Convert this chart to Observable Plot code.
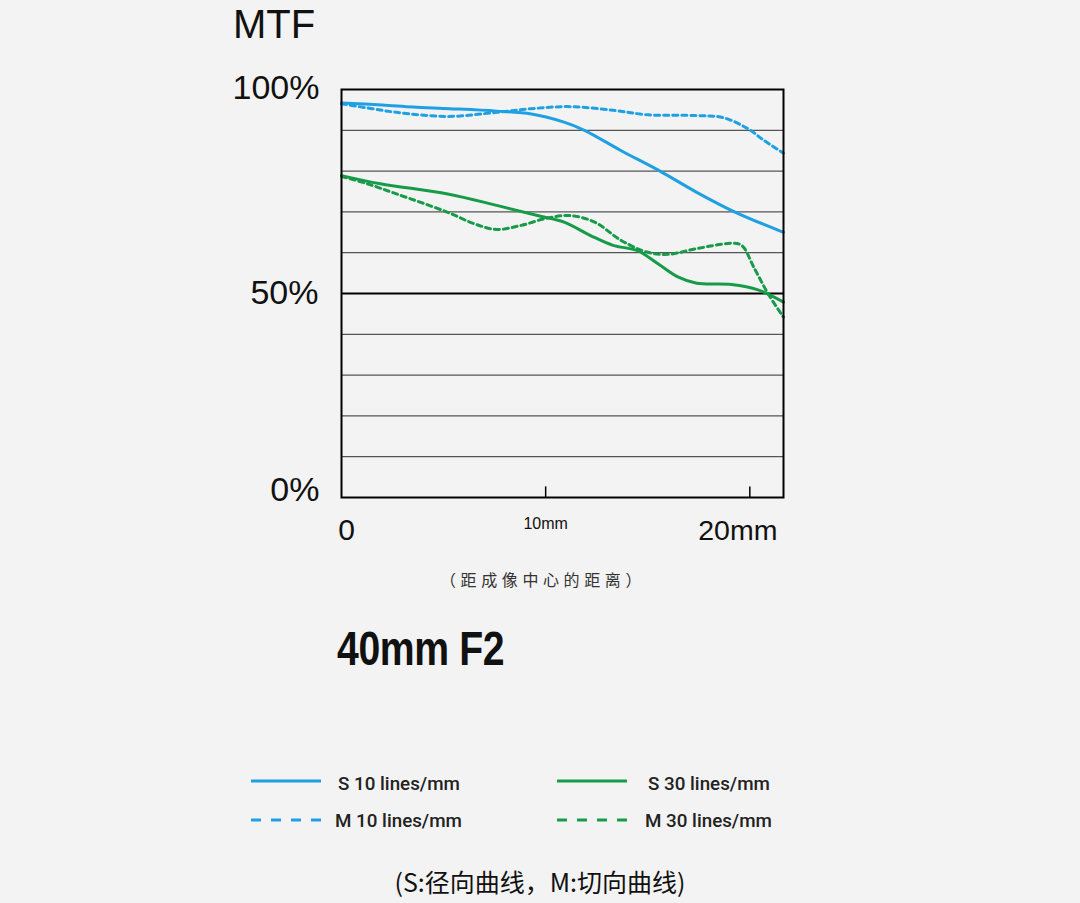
<!DOCTYPE html>
<html>
<head>
<meta charset="utf-8">
<script src="https://cdn.jsdelivr.net/npm/d3@7"></script>
<script src="https://cdn.jsdelivr.net/npm/@observablehq/plot@0.6"></script>
<style>
  html, body { margin: 0; padding: 0; background: #f3f3f3; }
  #wrap { position: relative; width: 1080px; height: 903px; background: #f3f3f3; overflow: hidden; font-family: "Liberation Sans", Arial, sans-serif; }
  #chart { position: absolute; left: 0; top: 0; }
  .abs { position: absolute; white-space: nowrap; }
  #mtf { left: 233px; top: 2px; font-size: 40px; color: #111; line-height: 44px; }
  #xcap { left: 440px; top: 567px; font-size: 16px; letter-spacing: 4.6px; color: #333; font-family: "Noto Sans CJK SC", sans-serif; line-height: 24px; }
  #lens { left: 337px; top: 620px; font-size: 49px; font-weight: bold; color: #111; font-family: "Liberation Sans", Arial, sans-serif; line-height: 56px; transform: scaleX(0.8); transform-origin: left; letter-spacing: -0.5px; }
  #legend { left: 0; top: 0; }
  .lg { position: absolute; font-family: Roboto, "Liberation Sans", sans-serif; font-weight: 500; font-size: 18.8px; color: #222; line-height: 22px; }
  #foot { left: 0; width: 1080px; text-align: center; top: 865px; font-size: 25px; color: #111; font-family: "Noto Sans CJK SC", sans-serif; line-height: 32px; }
</style>
</head>
<body>
<div id="wrap">
  <div id="chart"></div>
  <div class="abs" id="mtf">MTF</div>
  <div class="abs" id="xcap">（距成像中心的距离）</div>
  <div class="abs" id="lens">40mm F2</div>
  <div class="abs" id="legend"></div>
  <div class="abs" id="foot">(S:径向曲线，M:切向曲线)</div>
</div>
<script>
// ---- Data ----
const xMax = 21.65; // mm, image height edge
const s10X = [0, 2, 3.5, 5.3, 7.6, 9.3, 10.9, 11.9, 13.7, 15.6, 17.4, 19.3, 21.65];
const s10Y = [96.7, 96.2, 95.7, 95.3, 94.7, 94.0, 92.0, 90.0, 85.0, 80.0, 74.8, 69.9, 65.0];
const m10X = [0, 1.5, 2.7, 5.2, 7.6, 9.3, 11.2, 13.3, 15, 17.4, 18.7, 19.9, 20.7, 21.65];
const m10Y = [96.5, 95.3, 94.4, 93.4, 94.4, 95.3, 95.8, 94.9, 93.8, 93.6, 93.1, 90.4, 87.5, 84.4];
const s30X = [0, 1.9, 5.2, 7.6, 9.6, 10.9, 12.2, 13.3, 14.5, 15.5, 16.5, 17.4, 19.1, 20.4, 21.65];
const s30Y = [78.9, 76.9, 74.4, 71.6, 69.1, 67.5, 64.2, 61.8, 60.5, 57.3, 54.0, 52.5, 52.2, 50.9, 47.9];
const m30X = [0, 1.2, 2.7, 5.2, 6.5, 7.6, 8.8, 10.1, 11.2, 12.4, 13.7, 15, 16, 17.4, 19.1, 19.6, 20.2, 20.9, 21.65];
const m30Y = [78.7, 77.0, 74.4, 69.9, 67.1, 65.7, 66.7, 68.5, 69.1, 67.5, 63.0, 60.1, 59.6, 61.0, 62.3, 61.8, 56.4, 49.9, 44.2];

const seriesNames = ["S 10 lines/mm", "M 10 lines/mm", "S 30 lines/mm", "M 30 lines/mm"];
const seriesColors = ["#1fa0e3", "#1fa0e3", "#179b48", "#179b48"];
const seriesDashed = [false, true, false, true];

const gridValues = [10, 20, 30, 40, 60, 70, 80, 90];
const midLine = [50];
const yTickValues = [100, 50, 0];
const yTickLabels = ["100%", "50%", "0%"];
const xTickValues = [0, 10, 20];
const xTickLabels = ["0", "10mm", "20mm"];
const xTickMarks = [10, 20];

const toRows = (xs, ys) => xs.map((x, i) => ({x, y: ys[i]}));
const series = [toRows(s10X, s10Y), toRows(m10X, m10Y), toRows(s30X, s30Y), toRows(m30X, m30Y)];

const yTicks = yTickValues.map((v, i) => ({v, label: yTickLabels[i]}));
const xTicks = xTickValues.map((v, i) => ({v, label: xTickLabels[i]}));

const lineMarks = series.map((rows, i) => Plot.line(rows, {
  x: "x", y: "y", curve: "catmull-rom",
  stroke: seriesColors[i], strokeWidth: 3,
  strokeDasharray: seriesDashed[i] ? "5,4" : null
}));

const plot = Plot.plot({
  width: 1080, height: 560,
  marginLeft: 341, marginRight: 297, marginTop: 89, marginBottom: 63,
  style: {background: "transparent", fontFamily: "'Liberation Sans', Arial, sans-serif", overflow: "visible"},
  x: {domain: [0, xMax], axis: null},
  y: {domain: [0, 100], axis: null},
  marks: [
    Plot.ruleY(gridValues, {stroke: "#555", strokeWidth: 1.3}),
    Plot.ruleY(midLine, {stroke: "#000", strokeWidth: 2}),
    Plot.ruleX(xTickMarks, {y1: 0, y2: 2.6, stroke: "#000", strokeWidth: 1.5}),
    ...lineMarks,
    Plot.frame({stroke: "#000", strokeWidth: 2}),
    // y labels
    Plot.text(yTicks.filter(d => d.v === 100), {x: 0, y: "v", text: "label", textAnchor: "end", dx: -22, dy: -1, fontSize: 34, fill: "#111"}),
    Plot.text(yTicks.filter(d => d.v === 50), {x: 0, y: "v", text: "label", textAnchor: "end", dx: -23, dy: 0, fontSize: 34, fill: "#111"}),
    Plot.text(yTicks.filter(d => d.v === 0), {x: 0, y: "v", text: "label", textAnchor: "end", dx: -22, dy: -7, fontSize: 34, fill: "#111"}),
    // x labels
    Plot.text(xTicks.filter(d => d.v === 0), {x: "v", y: 0, text: "label", dx: 5, dy: 33, fontSize: 30, fill: "#111"}),
    Plot.text(xTicks.filter(d => d.v === 10), {x: "v", y: 0, text: "label", dx: 0, dy: 26, fontSize: 16, fill: "#111"}),
    Plot.text(xTicks.filter(d => d.v === 20), {x: "v", y: 0, text: "label", dx: -12, dy: 33, fontSize: 28.5, fill: "#111"})
  ]
});
document.getElementById("chart").appendChild(plot);

// ---- Legend ----
const legendPos = [
  {lx: 251, ly: 781, tx: 338, ty: 784},
  {lx: 251, ly: 820, tx: 335, ty: 821},
  {lx: 557, ly: 781, tx: 648, ty: 784},
  {lx: 557, ly: 820, tx: 645, ty: 821}
];
const legend = document.getElementById("legend");
const svgNS = "http://www.w3.org/2000/svg";
const lsvg = document.createElementNS(svgNS, "svg");
lsvg.setAttribute("width", 1080); lsvg.setAttribute("height", 903);
lsvg.style.position = "absolute"; lsvg.style.left = "0"; lsvg.style.top = "0";
seriesNames.forEach((name, i) => {
  const p = legendPos[i];
  const ln = document.createElementNS(svgNS, "line");
  ln.setAttribute("x1", p.lx); ln.setAttribute("x2", p.lx + 70);
  ln.setAttribute("y1", p.ly); ln.setAttribute("y2", p.ly);
  ln.setAttribute("stroke", seriesColors[i]); ln.setAttribute("stroke-width", 3);
  if (seriesDashed[i]) ln.setAttribute("stroke-dasharray", "10,10");
  lsvg.appendChild(ln);
  const t = document.createElement("div");
  t.className = "lg";
  t.textContent = name;
  t.style.left = p.tx + "px";
  t.style.top = (p.ty - 11) + "px";
  legend.appendChild(t);
});
legend.appendChild(lsvg);
</script>
</body>
</html>
